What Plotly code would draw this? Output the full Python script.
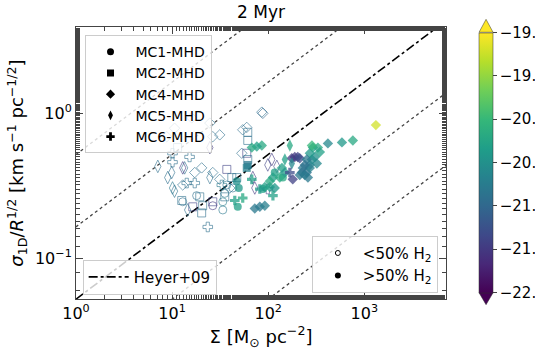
import numpy as np
import plotly.graph_objects as go

# surface density [Msun/pc^2], sigma_1D/R^1/2 [km/s/pc^1/2], log n colour, dense flag (1 = >50% H2)
mc1_sigma = [18.0, 33.7, 12.9, 35.3, 33.7, 26.5, 42.8, 37.1, 49.4, 48.2, 47.1, 87.9, 117, 142]
mc1_vel = [0.27, 0.215, 0.245, 0.28, 0.245, 0.23, 0.305, 0.32, 0.305, 0.226, 0.34, 0.30, 0.39, 0.36]
mc1_col = [-20.9, -20.8, -20.9, -20.8, -20.7, -21.5, -20.9, -20.8, -20.4, -20.3, -20.5, -20.3, -20.3, -20.2]
mc1_dense = [0, 0, 0, 0, 0, 0, 0, 0, 1, 1, 1, 1, 1, 1]

mc2_sigma = [11.4, 12.6, 19.4, 20.8, 35.3, 37.1, 41.8, 26.5, 16.4, 20.3, 61.3, 61.3, 59.8, 61.3, 47.1, 61.3, 59.8]
mc2_vel = [0.58, 0.25, 0.265, 0.23, 0.265, 0.41, 0.36, 0.245, 0.226, 0.205, 0.74, 0.65, 0.53, 0.48, 0.36, 0.44, 0.42]
mc2_col = [-21.0, -20.9, -20.9, -20.9, -20.9, -21.4, -20.9, -21.4, -21.4, -20.9, -20.9, -20.9, -21.4, -20.9, -20.9, -20.8, -20.7]
mc2_dense = [0, 0, 0, 0, 0, 0, 0, 0, 0, 0, 0, 0, 0, 0, 0, 1, 1]

mc4_sigma = [85.8, 76.1, 67.5, 418, 585, 760, 1320, 189, 203, 176, 213, 180,
             229, 252, 224, 213, 271, 285, 306, 271, 292, 329, 285, 345, 252, 259, 240, 271, 321, 240,
             139, 149, 112, 132, 104, 117, 92.2, 104, 72.5, 81.8, 92.2,
             8.8, 10.6, 16.0, 85.8, 87.9, 54.3, 59.8, 24.7, 26.5, 31.3, 17.2, 20.3, 26.5, 31.3, 39.8, 53.1, 12.9]
mc4_vel = [0.60, 0.59, 0.58, 0.62, 0.63, 0.65, 0.83, 0.50, 0.50, 0.49, 0.49, 0.35,
           0.42, 0.39, 0.39, 0.375, 0.44, 0.48, 0.50, 0.53, 0.58, 0.58, 0.60, 0.54, 0.48, 0.36, 0.375, 0.42, 0.45, 0.44,
           0.42, 0.39, 0.36, 0.36, 0.31, 0.305, 0.31, 0.34, 0.22, 0.226, 0.23,
           0.69, 0.79, 0.93, 1.02, 1.0, 0.77, 0.80, 0.857, 0.69, 0.71, 0.39, 0.42, 0.39, 0.35, 0.305, 0.53, 0.32]
mc4_col = [-20.2, -20.3, -20.2, -20.6, -20.4, -20.2, -19.2, -21.5, -21.4, -21.5, -21.3, -21.4,
           -20.8, -20.9, -20.9, -20.8, -20.7, -20.6, -20.5, -20.4, -20.3, -20.2, -20.0, -20.3, -20.8, -20.8, -20.8, -20.7, -20.6, -20.9,
           -20.3, -20.4, -20.3, -20.2, -20.3, -20.4, -20.3, -20.2, -20.8, -20.8, -20.7,
           -21.0, -21.0, -21.0, -20.9, -21.0, -20.9, -20.9, -20.9, -20.9, -20.9, -20.9, -20.9, -20.9, -20.9, -20.9, -20.9, -20.9]
mc4_dense = [1] * 41 + [0] * 17

mc5_sigma = [168, 176, 149, 24.7, 7.1, 9.9, 13.5, 10.6, 24.7, 12.9, 14.5, 109, 99, 69.2, 72.5, 123, 9.0, 10.1]
mc5_vel = [0.60, 0.45, 0.48, 0.58, 0.43, 0.39, 0.42, 0.29, 0.36, 0.42, 0.215, 0.48, 0.44, 0.36, 0.305, 0.43, 0.36, 0.305]
mc5_col = [-20.2, -20.6, -20.3, -21.5, -20.9, -20.9, -20.9, -20.9, -20.9, -21.5, -20.9, -21.5, -21.4, -21.5, -21.5, -21.4, -20.9, -20.8]
mc5_dense = [1, 1, 1, 0, 0, 0, 0, 0, 0, 0, 0, 0, 0, 0, 0, 0, 0, 0]

mc6_sigma = [15.2, 10.1, 14.2, 17.2, 23.5, 32.9, 10.1, 99, 54.3, 44.9, 112, 81.8, 168, 67.5]
mc6_vel = [0.50, 0.46, 0.33, 0.33, 0.164, 0.32, 0.53, 0.30, 0.26, 0.25, 0.27, 0.30, 0.39, 0.35]
mc6_col = [-20.9, -20.9, -20.9, -20.9, -20.9, -20.8, -20.9, -21.4, -20.2, -20.3, -20.3, -20.4, -21.3, -20.3]
mc6_dense = [0, 0, 0, 0, 0, 0, 0, 0, 1, 1, 1, 1, 1, 1]

# colorbar ticks (labels are clipped at the figure edge in the original)
cbar_ticks = [-22, -21.5, -21, -20.5, -20, -19.5, -19]
cbar_labels = ["−22.", "−21.", "−21.", "−20.", "−20.", "−19.", "−19."]

clouds = [
    ("MC1-MHD", "circle", 8, mc1_sigma, mc1_vel, mc1_col, mc1_dense),
    ("MC2-MHD", "square", 8, mc2_sigma, mc2_vel, mc2_col, mc2_dense),
    ("MC4-MHD", "diamond", 8, mc4_sigma, mc4_vel, mc4_col, mc4_dense),
    ("MC5-MHD", "diamond-tall", 9, mc5_sigma, mc5_vel, mc5_col, mc5_dense),
    ("MC6-MHD", "cross", 8, mc6_sigma, mc6_vel, mc6_col, mc6_dense),
]

G = 4.302e-3  # pc (km/s)^2 / Msun
line_offsets = [-2, -1, 1, 2]  # dotted lines, steps of sqrt(10)

FONT = "DejaVu Sans"
fig = go.Figure()

# reference lines
xs = np.array([0.5, 20000.0])
heyer = np.sqrt(np.pi * G * xs / 5)
for k in line_offsets:
    fig.add_trace(go.Scatter(x=xs, y=heyer * 10 ** (k / 2), mode="lines",
                             line=dict(color="#444", width=1.3, dash="dot"),
                             showlegend=False, hoverinfo="skip"))
fig.add_trace(go.Scatter(x=xs, y=heyer, mode="lines", name="Heyer+09",
                         line=dict(color="black", width=1.6, dash="dashdot"),
                         legend="legend2"))

# clouds: diffuse (open) first, then dense (filled) on top
for dense in (0, 1):
    for name, sym, size, s, v, c, d in clouds:
        idx = [i for i in range(len(s)) if d[i] == dense]
        fig.add_trace(go.Scatter(
            x=[s[i] for i in idx], y=[v[i] for i in idx], mode="markers",
            marker=dict(symbol=sym if dense else sym + "-open", size=size,
                        color=[c[i] for i in idx], coloraxis="coloraxis",
                        line=dict(width=1 if not dense else 0),
                        opacity=0.75 if dense else 0.6),
            showlegend=False, hoverinfo="skip"))

# legend entries
for name, sym, size, *_ in clouds:
    fig.add_trace(go.Scatter(x=[None], y=[None], mode="markers", name=name,
                             marker=dict(symbol=sym, size=7, color="black"),
                             legend="legend"))
fig.add_trace(go.Scatter(x=[None], y=[None], mode="markers", name="&lt;50% H<sub>2</sub>",
                         marker=dict(symbol="circle-open", size=5, color="black", line=dict(width=1)),
                         legend="legend3"))
fig.add_trace(go.Scatter(x=[None], y=[None], mode="markers", name="&gt;50% H<sub>2</sub>",
                         marker=dict(symbol="circle", size=6, color="black"),
                         legend="legend3"))

axis_common = dict(type="log", showgrid=False, zeroline=False, showline=True,
                   linecolor="#444", linewidth=1, mirror="ticks", ticks="inside",
                   ticklen=7, tickcolor="#444", tickfont=dict(size=16, color="black"),
                   minor=dict(ticks="inside", ticklen=4, tickcolor="#444", showgrid=False))

fig.update_xaxes(axis_common, range=[0, 3.85], tickvals=[1, 10, 100, 1000],
                 ticktext=["10<sup>0</sup>", "10<sup>1</sup>", "10<sup>2</sup>", "10<sup>3</sup>"],
                 title=dict(text="Σ [M<sub>⊙</sub> pc<sup>−2</sup>]", font=dict(size=18, color="black"),
                            standoff=4))
fig.update_yaxes(axis_common, range=[-1.283, 0.597], tickvals=[0.1, 1],
                 ticktext=["10<sup>−1</sup>", "10<sup>0</sup>"],
                 title=dict(text="<i>σ</i><sub>1D</sub>/<i>R</i><sup>1/2</sup> [km s<sup>−1</sup> pc<sup>−1/2</sup>]",
                            font=dict(size=18, color="black"), standoff=6))

legend_box = dict(bgcolor="rgba(255,255,255,0.8)", bordercolor="#ccc", borderwidth=1,
                  font=dict(size=15, color="black", family=FONT))

# colorbar extension triangles
cb_x0, cb_x1 = 1.0893, 1.1272
cb_xc = (cb_x0 + cb_x1) / 2
shapes = [
    dict(type="path", xref="paper", yref="paper",
         path=f"M {cb_x0} 0.9806 L {cb_xc} 1.0282 L {cb_x1} 0.9806 Z",
         fillcolor="#fde725", line=dict(color="#333", width=0.5)),
    dict(type="path", xref="paper", yref="paper",
         path=f"M {cb_x0} 0.0231 L {cb_xc} -0.0209 L {cb_x1} 0.0231 Z",
         fillcolor="#440154", line=dict(color="#333", width=0.5)),
]

fig.update_layout(
    width=535, height=357,
    margin=dict(l=76, r=89, t=27, b=58, autoexpand=False),
    paper_bgcolor="white", plot_bgcolor="white",
    font=dict(family=FONT, color="black"),
    title=dict(text="2 Myr", x=0.488, xanchor="center", y=0.965, yanchor="middle",
               font=dict(size=17, color="black")),
    coloraxis=dict(colorscale="Viridis", cmin=-22, cmax=-19,
                   colorbar=dict(x=cb_x0, xanchor="left", xpad=0, y=0.5018, yanchor="middle",
                                 len=0.9575, lenmode="fraction", ypad=0, thickness=14,
                                 outlinewidth=0.5, outlinecolor="#333",
                                 tickvals=cbar_ticks, ticktext=cbar_labels,
                                 ticks="outside", ticklen=4,
                                 tickfont=dict(size=15, color="black"))),
    legend=dict(legend_box, x=0.023, y=0.97, xanchor="left", yanchor="top", itemwidth=40,
                font=dict(size=14, color="black", family=FONT)),
    legend2=dict(legend_box, x=0.018, y=0.016, xanchor="left", yanchor="bottom", itemwidth=40),
    legend3=dict(legend_box, x=0.978, y=0.023, xanchor="right", yanchor="bottom", itemwidth=40),
    shapes=shapes,
)

# drop the page's default body margin so the figure sits at the window origin
fig.write_html("out.html", config={"displayModeBar": False},
               post_script="document.body.style.margin='0';")
